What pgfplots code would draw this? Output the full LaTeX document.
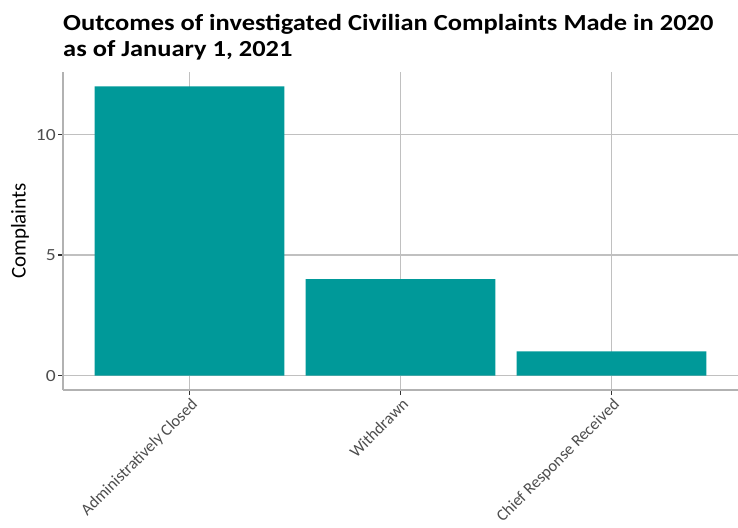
\documentclass[border=0pt]{standalone}
\usepackage{pgfplots}
\pgfplotsset{compat=1.18}
\usepackage{fontspec}
\setmainfont{Carlito}
\newfontfamily\wideFont[FakeStretch=1.15]{Carlito}
\definecolor{barteal}{RGB}{0,153,153}
\definecolor{gridgray}{RGB}{192,192,192}
\definecolor{axgray}{RGB}{178,178,178}
\definecolor{ticklab}{RGB}{77,77,77}
\definecolor{tickmk}{RGB}{51,51,51}
\begin{document}
\begin{tikzpicture}[x=1pt,y=1pt]
\path[use as bounding box] (-63,-137) rectangle (675,390);
\begin{axis}[
  at={(0,0)}, anchor=south west,
  scale only axis, width=675pt, height=318pt,
  xmin=0.4, xmax=3.6, ymin=-0.6, ymax=12.6,
  xtick={1,2,3},
  xticklabels={Administratively Closed, Withdrawn, Chief Response Received},
  ytick={0,5,10},
  axis x line*=bottom, axis y line*=left,
  axis line style={draw=axgray, line width=1.3pt, -},
  grid=major,
  major grid style={draw=gridgray, line width=1.3pt},
  tick align=outside, major tick length=5pt,
  tick style={draw=tickmk, line width=1.3pt},
  xticklabel style={rotate=45, anchor=north east, font=\fontsize{16.5}{18}\selectfont, text=ticklab, inner sep=1pt, yshift=-1pt},
  yticklabel style={font=\wideFont\fontsize{17}{19}\selectfont, text=ticklab, inner sep=2pt},
  /pgf/number format/assume math mode=true,
  ylabel={Complaints},
  every axis y label/.style={at={(rel axis cs:0,0.5)}, xshift=-43pt, rotate=90, anchor=center, font=\fontsize{21}{23}\selectfont, text=black},
  ybar, bar width=0.9, bar shift=0pt,
  clip=false,
]
\addplot[fill=barteal, draw=none] coordinates {(1,12) (2,4) (3,1)};
\end{axis}
\node[anchor=base west, font=\wideFont\fontsize{23}{26}\selectfont\bfseries, inner sep=0pt] at (0,359) {Outcomes of investigated Civilian Complaints Made in 2020};
\node[anchor=base west, font=\wideFont\fontsize{23}{26}\selectfont\bfseries, inner sep=0pt] at (0,333) {as of January 1, 2021};
\end{tikzpicture}
\end{document}
